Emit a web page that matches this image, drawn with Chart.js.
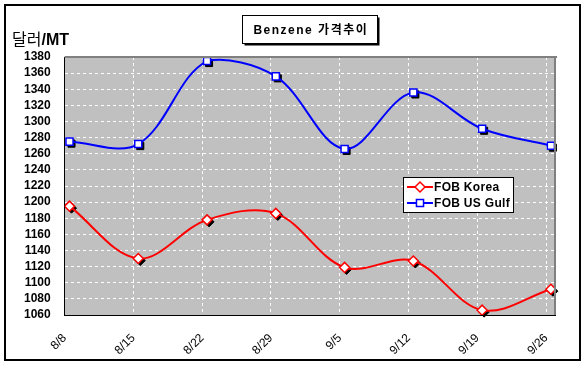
<!DOCTYPE html>
<html>
<head>
<meta charset="utf-8">
<script src="https://cdn.jsdelivr.net/npm/chart.js@4/dist/chart.umd.min.js"></script>
<style>
  html,body{margin:0;padding:0;background:#fff;}
  #wrap{width:586px;height:369px;position:relative;}
</style>
</head>
<body>
<div id="wrap"><canvas id="c" width="586" height="369"></canvas></div>
<script>
/* Benzene price chart: weekly FOB prices, $/MT */
const labels = ["8/8","8/15","8/22","8/29","9/5","9/12","9/19","9/26"];
const fobKorea = [1195,1130,1178,1186,1119,1127,1066,1092];
const fobUsGulf = [1275,1272,1375,1356,1266,1336,1291,1270];
const yTicks = [1060,1080,1100,1120,1140,1160,1180,1200,1220,1240,1260,1280,1300,1320,1340,1360,1380];
const GRID_SHIFT = 0.07; // Excel draws gridlines a little left of the points

const FONT = '"Liberation Sans", Arial, sans-serif';

function pts(arr){ return arr.map((y,i)=>({x:i,y:y})); }

// black drop shadow under each marker, drawn before the datasets
function shadows(chart){
  const ctx = chart.ctx;
  chart.data.datasets.forEach((ds,di)=>{
    const meta = chart.getDatasetMeta(di);
    meta.data.forEach(p=>{
      ctx.save();
      ctx.fillStyle = "#000"; ctx.strokeStyle = "#000"; ctx.lineWidth = 1;
      Chart.helpers.drawPoint(ctx, {pointStyle: ds.pointStyle, radius: ds.pointRadius, rotation: 0, borderWidth: 1}, p.x+2, p.y+2);
      ctx.restore();
    });
  });
}

const decor = {
  id: "decor",
  beforeDraw(chart){
    const {ctx, chartArea:a} = chart;
    ctx.save();
    ctx.fillStyle = "#fff"; ctx.fillRect(0,0,chart.width,chart.height);
    ctx.fillStyle = "#c0c0c0"; ctx.fillRect(a.left,a.top,a.right-a.left,a.bottom-a.top);
    ctx.restore();
  },
  beforeDatasetsDraw(chart){ shadows(chart); },
  afterDraw(chart){
    const {ctx, chartArea:a} = chart;
    ctx.save();
    // gray border top / right of plot
    ctx.fillStyle = "#808080";
    ctx.fillRect(a.left, a.top-1, a.right-a.left+2, 2);
    ctx.fillRect(a.right-1, a.top-1, 2, a.bottom-a.top+1);
    // outer frame
    ctx.strokeStyle = "#000"; ctx.lineWidth = 2;
    ctx.strokeRect(5,5,575,355);
    // title box with shadow
    const cx = (a.left+a.right)/2, bw = 135, bh = 28, bx = Math.round(cx-bw/2)+0.5, by = 15.5;
    ctx.fillStyle = "#000"; ctx.fillRect(bx+2, by+2, bw, bh);
    ctx.fillStyle = "#fff"; ctx.fillRect(bx, by, bw, bh);
    ctx.lineWidth = 1; ctx.strokeRect(bx, by, bw, bh);
    ctx.fillStyle = "#000"; ctx.textAlign = "center"; ctx.textBaseline = "middle";
    ctx.font = 'bold 12px ' + FONT + ', "Noto Sans CJK KR"';
    ctx.letterSpacing = "1.5px";
    ctx.fillText("Benzene 가격추이", cx+1, by+bh/2+1);
    // y unit
    ctx.letterSpacing = "0px";
    ctx.textAlign = "left"; ctx.textBaseline = "alphabetic";
    ctx.font = '16px "Noto Sans CJK KR"';
    ctx.fillText("달러", 12, 45);
    const w = ctx.measureText("달러").width;
    ctx.font = 'bold 16px ' + FONT;
    ctx.fillText("/MT", 12+w, 45);
    // legend
    const lx = 403.5, ly = 177.5, lw = 110, lh = 35;
    ctx.fillStyle = "#fff"; ctx.fillRect(lx, ly, lw, lh);
    ctx.strokeStyle = "#000"; ctx.lineWidth = 1; ctx.strokeRect(lx, ly, lw, lh);
    ctx.font = 'bold 12px ' + FONT; ctx.letterSpacing = "0.3px"; ctx.textBaseline = "middle";
    chart.data.datasets.forEach((ds,i)=>{
      const y = 187 + i*16;
      ctx.strokeStyle = ds.borderColor; ctx.lineWidth = 2;
      ctx.beginPath(); ctx.moveTo(407, y); ctx.lineTo(433, y); ctx.stroke();
      ctx.fillStyle = "#fff"; ctx.strokeStyle = ds.borderColor; ctx.lineWidth = 1.5;
      Chart.helpers.drawPoint(ctx, {pointStyle: ds.pointStyle, radius: ds.pointRadius, rotation: 0, borderWidth: 1.5}, 420, y);
      ctx.fillStyle = "#000";
      ctx.fillText(ds.label, 434, y+1);
    });
    ctx.restore();
  }
};

new Chart(document.getElementById("c"), {
  type: "line",
  data: {
    datasets: [
      {label:"FOB Korea", data: pts(fobKorea), borderColor:"#ff0000", borderWidth:2,
       pointStyle:"rectRot", pointRadius:5, pointBackgroundColor:"#fff", pointBorderColor:"#ff0000", pointBorderWidth:1.5,
       tension:0.35, fill:false},
      {label:"FOB US Gulf", data: pts(fobUsGulf), borderColor:"#0000ff", borderWidth:2,
       pointStyle:"rect", pointRadius:5, pointBackgroundColor:"#fff", pointBorderColor:"#0000ff", pointBorderWidth:1.5,
       tension:0.35, fill:false}
    ]
  },
  options: {
    responsive: false,
    animation: false,
    layout: {padding: {left: 10, top: 57, right: 31, bottom: 6}},
    plugins: {legend:{display:false}, tooltip:{enabled:false}},
    scales: {
      x: {
        type: "linear", min: -GRID_SHIFT, max: 7.06,
        afterBuildTicks: axis => { axis.ticks = labels.map((l,i)=>({value: i-GRID_SHIFT})); },
        afterFit: axis => { axis.height = 48; },
        ticks: {autoSkip:false, minRotation:45, maxRotation:45, padding:16, color:"#000",
                font:{family:FONT, size:12}, callback:(v,i)=>labels[i]},
        grid: {color:"#ffffff", lineWidth:1, drawTicks:false},
        border: {color:"#000", width:1, dash:[3,3]}
      },
      y: {
        min: 1060, max: 1380,
        afterBuildTicks: axis => { axis.ticks = yTicks.map(v=>({value:v})); },
        ticks: {autoSkip:false, padding:14, color:"#000", font:{family:FONT, size:12, weight:"bold"},
                callback: v => String(v)},
        grid: {color:"#ffffff", lineWidth:1, drawTicks:false},
        border: {color:"#000", width:1, dash:[3,3]}
      }
    }
  },
  plugins: [decor]
});
</script>
</body>
</html>
